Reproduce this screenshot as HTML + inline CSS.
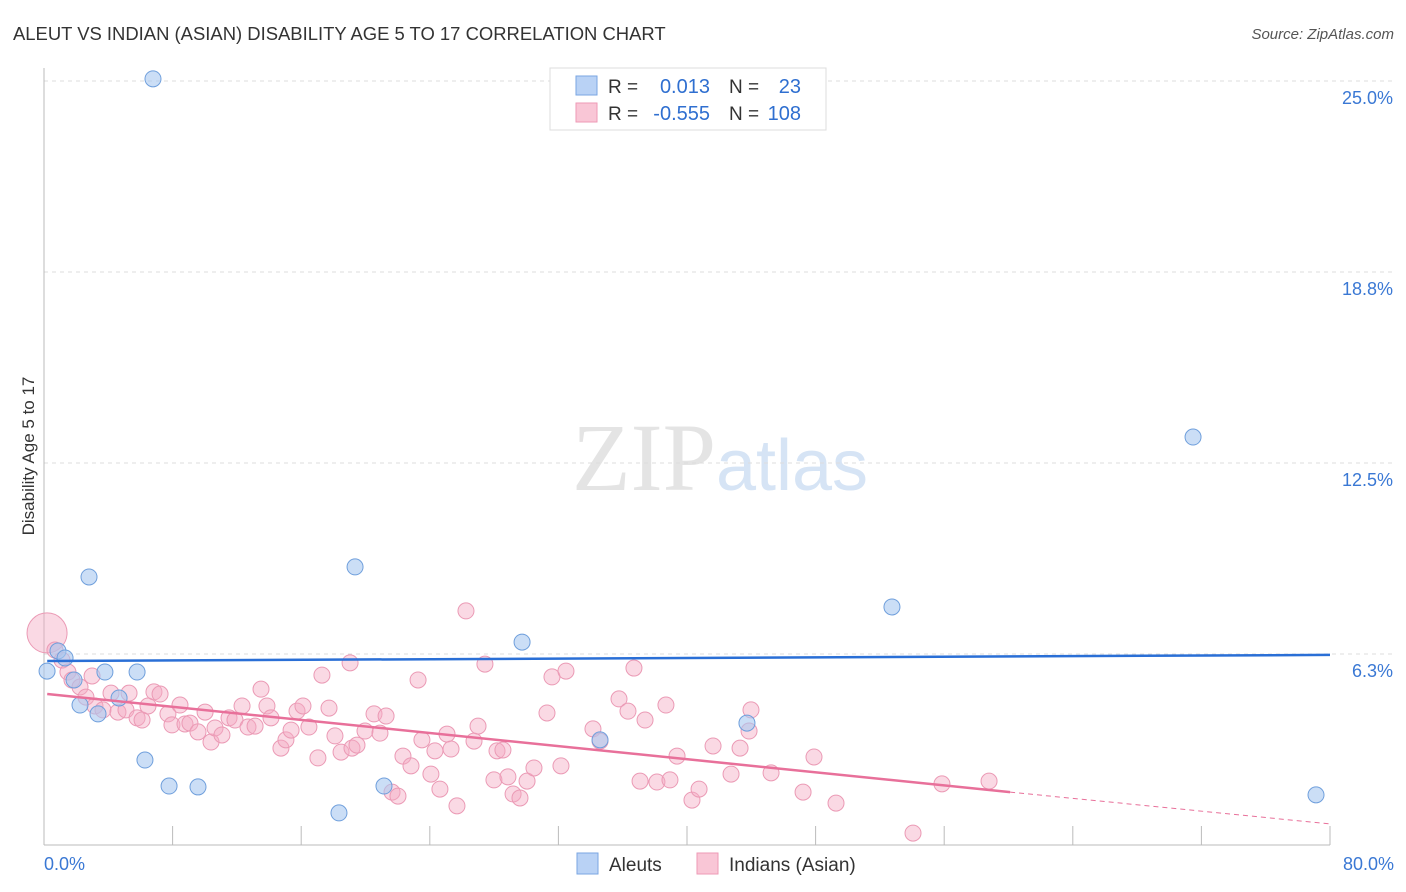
<!DOCTYPE html>
<html><head><meta charset="utf-8">
<style>
body{margin:0;background:#fff;font-family:"Liberation Sans",sans-serif;}
svg{display:block}
</style></head>
<body>
<svg id="chart" width="1406" height="892" xmlns="http://www.w3.org/2000/svg">
<text x="13" y="40" font-size="18.45" fill="#333">ALEUT VS INDIAN (ASIAN) DISABILITY AGE 5 TO 17 CORRELATION CHART</text>
<text x="1394" y="39" font-size="15" fill="#555" font-style="italic" text-anchor="end">Source: ZipAtlas.com</text>
<text x="720" y="490" font-size="96" text-anchor="middle" fill="#e4e4e4" font-family="Liberation Serif,serif">ZIP<tspan fill="#d6e4f5" font-family="Liberation Sans,sans-serif" font-size="72">atlas</tspan></text>
<text transform="translate(34,456) rotate(-90)" font-size="17" fill="#333" text-anchor="middle">Disability Age 5 to 17</text>
<g id="grid"></g><g id="marks"></g>
<g>
<rect x="550" y="68" width="276" height="62" fill="#fff" stroke="#ddd"/>
<rect x="576" y="76" width="21" height="19" fill="#b9d2f5" stroke="#7aa6e2"/>
<rect x="576" y="103" width="21" height="19" fill="#f9c6d6" stroke="#ee9ab6"/>
<text x="608" y="93" font-size="19" fill="#333">R =</text>
<text x="710" y="93" font-size="20" fill="#2f6fd0" text-anchor="end">0.013</text>
<text x="729" y="93" font-size="19" fill="#333">N =</text>
<text x="801" y="93" font-size="20" fill="#2f6fd0" text-anchor="end">23</text>
<text x="608" y="120" font-size="19" fill="#333">R =</text>
<text x="710" y="120" font-size="20" fill="#2f6fd0" text-anchor="end">-0.555</text>
<text x="729" y="120" font-size="19" fill="#333">N =</text>
<text x="801" y="120" font-size="20" fill="#2f6fd0" text-anchor="end">108</text>
</g>
<g>
<rect x="577" y="853" width="21" height="21" fill="#b9d2f5" stroke="#7aa6e2"/>
<text x="609" y="871" font-size="19" fill="#333">Aleuts</text>
<rect x="697" y="853" width="21" height="21" fill="#f9c6d6" stroke="#ee9ab6"/>
<text x="729" y="871" font-size="19" fill="#333">Indians (Asian)</text>
</g>
</svg>
<script>
const xTickLabels=["0.0%","80.0%"];
const yTicks=[6.25,12.5,18.75,25];
const yTickLabels=["6.3%","12.5%","18.8%","25.0%"];
const aleutX=[6.78,2.80,19.35,71.48,52.75,29.74,0.87,1.31,0.19,3.79,5.79,1.87,4.67,2.24,3.36,43.73,34.59,6.28,7.78,9.58,21.15,18.35,79.13];
const aleutY=[25.07,8.77,9.10,13.35,7.79,6.64,6.35,6.12,5.69,5.66,5.66,5.40,4.81,4.58,4.29,3.99,3.44,2.78,1.93,1.90,1.93,1.05,1.64];
const indX=[0.19,0.68,1.12,1.49,1.74,2.24,2.99,2.61,3.17,3.67,4.17,4.60,5.10,5.29,5.79,6.10,6.47,6.84,7.22,7.71,7.96,8.46,8.77,9.08,9.58,10.02,10.39,10.64,11.07,11.51,11.88,12.32,12.69,13.13,13.50,13.87,14.12,14.74,15.05,15.37,15.74,16.11,16.48,17.04,17.29,17.73,18.10,18.48,19.04,19.16,19.47,19.97,20.53,20.90,21.28,21.65,22.02,22.33,22.83,23.27,23.51,24.07,24.32,24.63,25.07,25.32,25.69,26.25,26.75,27.00,27.43,27.99,28.18,28.55,28.86,29.18,29.61,30.05,30.48,31.29,31.60,32.16,32.47,34.15,34.59,35.77,36.33,36.70,37.08,37.39,38.13,38.69,38.94,39.38,40.31,40.75,41.62,42.74,43.30,43.86,43.98,45.23,47.22,47.90,49.27,54.06,55.86,58.79];
const indY=[6.94,6.38,6.05,5.66,5.40,5.17,5.53,4.84,4.55,4.42,4.97,4.35,4.42,4.97,4.16,4.09,4.55,5.01,4.94,4.29,3.93,4.58,3.96,3.99,3.70,4.35,3.37,3.83,3.60,4.16,4.09,4.55,3.86,3.89,5.10,4.55,4.16,3.17,3.44,3.76,4.38,4.55,3.86,2.85,5.56,4.48,3.57,3.04,5.96,3.17,3.27,3.73,4.29,3.66,4.22,1.73,1.60,2.91,2.59,5.40,3.44,2.32,3.08,1.83,3.63,3.14,1.28,7.66,3.40,3.89,5.92,2.13,3.08,3.11,2.23,1.67,1.54,2.09,2.52,4.32,5.50,2.59,5.69,3.80,3.40,4.78,4.38,5.79,2.09,4.09,2.06,4.58,2.13,2.91,1.47,1.83,3.24,2.32,3.17,3.73,4.42,2.36,1.73,2.88,1.37,0.39,2.00,2.09];
const aleutTrend=[[0.2,6.02],[80,6.22]];
const indTrend=[[0.2,4.94],[60.1,1.73],[80,0.69]];
const NS="http://www.w3.org/2000/svg";
const sx=v=>44+v*16.075, sy=v=>845-v*30.56;
function mk(tag,attrs,parent){const e=document.createElementNS(NS,tag);for(const k in attrs)e.setAttribute(k,attrs[k]);parent.appendChild(e);return e;}
const grid=document.getElementById('grid'),marks=document.getElementById('marks');
yTicks.forEach((t,i)=>{
 const l=mk('line',{x1:44,x2:1394,y1:sy(t),y2:sy(t),stroke:'#ddd','stroke-dasharray':'4,4'},grid);
 
 
 const tx=mk('text',{x:1393,y:sy(t)+23,'font-size':18,fill:'#3a78d4','text-anchor':'end'},grid);
 tx.textContent=yTickLabels[i];
 
 
});
const ax=mk('line',{x1:44,x2:44,y1:68,y2:845,stroke:'#bbb'},grid);


const bx=mk('line',{x1:44,x2:1330,y1:845,y2:845,stroke:'#bbb'},grid);


for(let i=1;i<=10;i++){const t=mk('line',{x1:sx(i*8),x2:sx(i*8),y1:826,y2:845,stroke:'#bbb'},grid);
 
 }
[[0,'start',44],[80,'end',1394]].forEach((d,i)=>{const t=mk('text',{x:d[2],y:870,'font-size':18,fill:'#3a78d4','text-anchor':d[1]},grid);t.textContent=xTickLabels[i];
 
 });
indX.forEach((x,i)=>{const c=mk('circle',{cx:sx(x),cy:sy(indY[i]),r:i==0?20:8,fill:'rgba(245,170,196,0.45)',stroke:'#eb9ab5','stroke-width':1},marks);
 
 });
aleutX.forEach((x,i)=>{const c=mk('circle',{cx:sx(x),cy:sy(aleutY[i]),r:8,fill:'rgba(168,200,240,0.6)',stroke:'#6f9fdc','stroke-width':1},marks);
 
 });
const bl=mk('line',{x1:sx(aleutTrend[0][0]),y1:sy(aleutTrend[0][1]),x2:sx(aleutTrend[1][0]),y2:sy(aleutTrend[1][1]),stroke:'#2a6fd6','stroke-width':2.5},marks);


const pl=mk('line',{x1:sx(indTrend[0][0]),y1:sy(indTrend[0][1]),x2:sx(indTrend[1][0]),y2:sy(indTrend[1][1]),stroke:'#e8709a','stroke-width':2.5},marks);


const pd=mk('line',{x1:sx(indTrend[1][0]),y1:sy(indTrend[1][1]),x2:sx(indTrend[2][0]),y2:sy(indTrend[2][1]),stroke:'#e8709a','stroke-width':1,'stroke-dasharray':'5,4'},marks);


</script>
</body></html>
